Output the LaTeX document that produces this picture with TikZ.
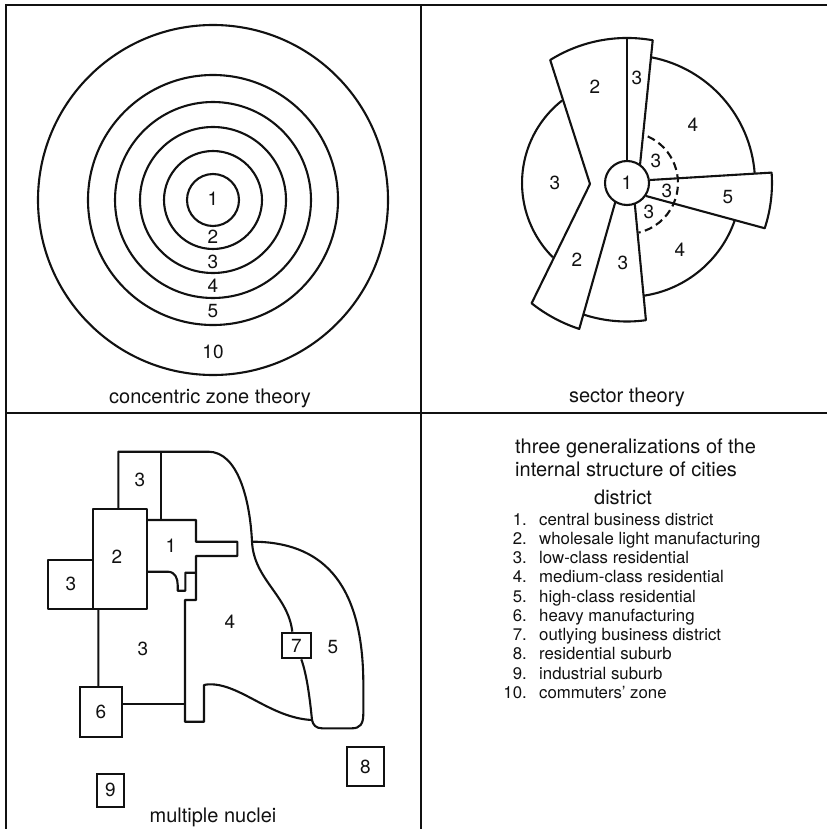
\documentclass[tikz,border=0pt]{standalone}
\usepackage{fontspec}
\setmainfont{TeX Gyre Heros}
\definecolor{urbInk}{HTML}{111111}
\tikzset{
  urb frame/.style={draw=urbInk, line width=1.4pt},
  urb line/.style={draw=urbInk, line width=2.1pt, line join=round},
  urb dashed/.style={urb line, dash pattern=on 8pt off 4.5pt},
  urb num/.style={font=\fontsize{19}{22}\selectfont, text=urbInk, inner sep=0pt},
  urb box/.style={draw=urbInk, line width=2.1pt, inner sep=0pt, font=\fontsize{19}{22}\selectfont, text=urbInk},
  urb caption/.style={font=\fontsize{20}{24}\selectfont, text=urbInk, inner sep=0pt, anchor=base},
  urb item/.style={font=\fontsize{16.8}{19}\selectfont, text=urbInk, inner sep=0pt},
}
\begin{document}
\begin{tikzpicture}[x=1pt,y=-1pt]
  \useasboundingbox (0,0) rectangle (827,829);
  % frame
  \draw[urb frame] (6,829) -- (6,5) -- (827,5);
  \draw[urb frame] (6,413) -- (827,413);
  \draw[urb frame] (421,5) -- (421,829);

  % concentric zone theory
  \coordinate (czc) at (213,200);
  \foreach \r in {26,49,73,98,125,175}
    \draw[urb line] (czc) circle[radius=\r];
  \foreach \n/\y in {1/199,2/237,3/261.5,4/285.5,5/311.5,10/352}
    \node[urb num] (cz\n) at (213,\y) {\n};
  \node[urb caption] (czcap) at (210,403) {concentric zone theory};

  % sector theory
  \node[urb line, circle, minimum size=44pt, inner sep=0pt, urb num] (sc1) at (627,183) {1};
  \draw[urb line] (590,184) -- (550.2,60) arc[start angle=-122, end angle=-79.8, radius=145] -- (640,165);
  \draw[urb line] (627,38) -- (627,161);
  \draw[urb line] (562.1,100.5) arc[start angle=231.8, end angle=135, radius=105];
  \draw[urb line] (590,184) -- (531.6,303.3) arc[start angle=128.4, end angle=108.1, radius=153.5] -- (615.3,202);
  \draw[urb line] (583.4,314.5) arc[start angle=108.3, end angle=82.1, radius=138.5] -- (634.8,204);
  \draw[urb line] (643.9,295.7) arc[start angle=81.5, end angle=19, radius=114];
  \draw[urb line] (650,180) -- (771.6,172.6) arc[start angle=-4.1, end angle=18.2, radius=145] -- (646,196);
  \draw[urb line] (651.9,57.4) arc[start angle=-78.8, end angle=-4.2, radius=128];
  \draw[urb dashed] (647.7,136.4) arc[start angle=-66, end angle=77, radius=51];
  \node[urb num] (sc2a) at (595,87) {2};
  \node[urb num] (sc3a) at (637,78) {3};
  \node[urb num] (sc4a) at (693,125) {4};
  \node[urb num] (sc3b) at (555,183) {3};
  \node[urb num] (sc3c) at (656,161) {3};
  \node[urb num] (sc3d) at (667,191) {3};
  \node[urb num] (sc3e) at (649,212) {3};
  \node[urb num] (sc5) at (728,197) {5};
  \node[urb num] (sc4b) at (680,250) {4};
  \node[urb num] (sc2b) at (577,260) {2};
  \node[urb num] (sc3f) at (623,263) {3};
  \node[urb caption] (sccap) at (627,402) {sector theory};

  % multiple nuclei
  \node[urb box, minimum width=41.7pt, minimum height=50pt] (nb6) at (100.9,712.3) {6};
  \node[urb box, minimum width=29.3pt, minimum height=25.6pt] (nb7) at (296.3,645.5) {7};
  \node[urb box, minimum width=37.3pt, minimum height=38.7pt] (nb8) at (365.3,766.7) {8};
  \node[urb box, minimum width=27.3pt, minimum height=32.7pt] (nb9) at (110.3,790.3) {9};
  \draw[urb line] (92.7,509.3) rectangle (147.3,609.3);
  \draw[urb line] (92.7,560) -- (48.3,560) -- (48.3,609.3) -- (92.7,609.3);
  \draw[urb line] (118.3,509.3) -- (118.3,451.7) -- (208.3,451.7)
    .. controls (238,451.7) and (250,500) .. (252,541.7)
    .. controls (254,580) and (288,595) .. ([xshift=-4pt]nb7.north);
  \draw[urb line] (160.7,451.7) -- (160.7,520);
  \draw[urb line] (147.3,520) -- (196,520) -- (196,541.7) -- (237.3,541.7) -- (237.3,556) -- (196,556)
    -- (196,600) -- (185,600) -- (185,721.7) -- (204,721.7) -- (204,685) -- (208.3,684.3)
    .. controls (240,683) and (270,718) .. (312,720);
  \draw[urb line] (147.3,571.7) -- (168,571.7) .. controls (175,572) and (177.7,578) .. (177.7,585)
    -- (177.7,590.7) -- (185.3,590.7) -- (185.3,572.7) -- (196,572.7);
  \draw[urb line] ([xshift=5pt]nb7.south) .. controls (307,675) and (310,700) .. (312,720);
  \draw[urb line] (252,541.7) .. controls (320,541.7) and (362,580) .. (363.3,680) -- (363.3,714)
    .. controls (363.3,724) and (360,728.3) .. (352,728.3) -- (322,728.3)
    .. controls (316,728.3) and (313,725) .. (312,720);
  \draw[urb line] ([xshift=-2.5pt]nb6.north) -- (98.3,609.3);
  \draw[urb line] ([yshift=8pt]nb6.east) -- (185,704.3);
  \node[urb num] (nb3a) at (140,480) {3};
  \node[urb num] (nb2) at (117,557) {2};
  \node[urb num] (nb1) at (171,546) {1};
  \node[urb num] (nb3b) at (71,584) {3};
  \node[urb num] (nb4) at (230,622) {4};
  \node[urb num] (nb3c) at (143,649) {3};
  \node[urb num] (nb5) at (333,647) {5};
  \node[urb caption] (nbcap) at (213,822) {multiple nuclei};

  % legend
  \node[urb caption, anchor=base west] (ttl1) at (515,453) {three generalizations of the};
  \node[urb caption, anchor=base west] (ttl2) at (515,476.5) {internal structure of cities};
  \node[urb caption] (dist) at (623,504) {district};
  \foreach \txt [count=\i] in {central business district, wholesale light manufacturing,
      low-class residential, medium-class residential, high-class residential,
      heavy manufacturing, outlying business district, residential suburb,
      industrial suburb, commuters' zone} {
    \node[urb item, anchor=base east] (num\i) at (527,{525+(\i-1)*19.26}) {\i.};
    \node[urb item, anchor=base west] (item\i) at (539,{525+(\i-1)*19.26}) {\txt};
  }
\end{tikzpicture}
\end{document}
